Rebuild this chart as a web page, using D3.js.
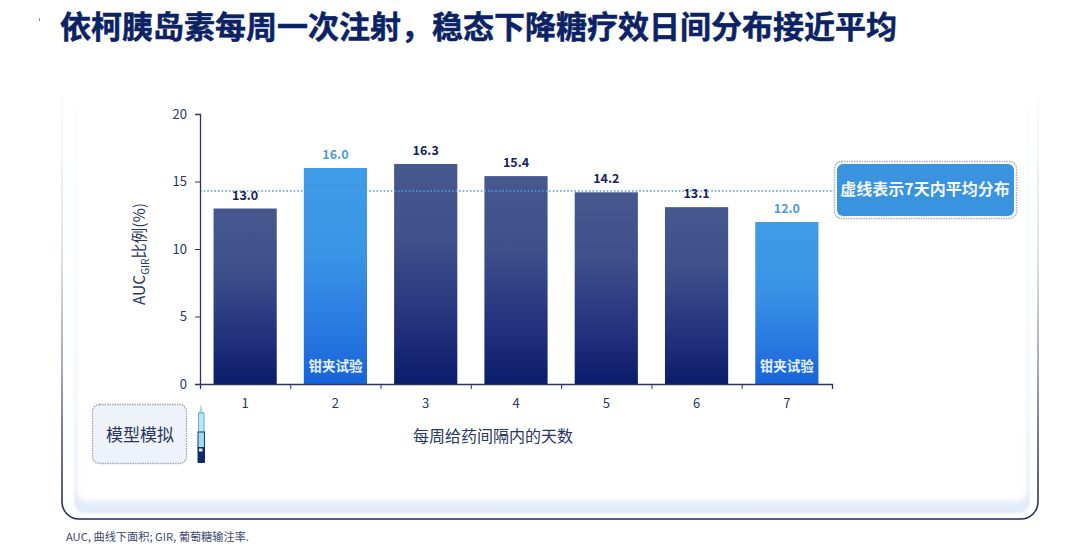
<!DOCTYPE html>
<html><head><meta charset="utf-8">
<script src="https://cdn.jsdelivr.net/npm/d3@7/dist/d3.min.js"></script>
<style>html,body{margin:0;padding:0;background:#fff;overflow:hidden}svg{display:block}
text{font-family:"Noto Sans CJK SC","Noto Sans",sans-serif}</style></head><body>
<svg id="c" width="1080" height="553"></svg>
<script>
const days = ["1","2","3","4","5","6","7"];
const shares = [13.0,16.0,16.3,15.4,14.2,13.1,12.0];
const shareLabels = ["13.0","16.0","16.3","15.4","14.2","13.1","12.0"];
const clampDays = ["2","7"];
const meanShare = 14.3;
const yTicks = [0,5,10,15,20];
const titleText = "依柯胰岛素每周一次注射，稳态下降糖疗效日间分布接近平均";
const xTitle = "每周给药间隔内的天数";
const calloutText = "虚线表示7天内平均分布";
const clampText = "钳夹试验";
const modelText = "模型模拟";
const footText = "AUC, 曲线下面积; GIR, 葡萄糖输注率.";

const NAVY="#0b2265", INK="#2a3566";
const svg=d3.select("#c");
const defs=svg.append("defs");
function grad(id,x2,y2,stops){const g=defs.append("linearGradient").attr("id",id).attr("x1",0).attr("y1",0).attr("x2",x2).attr("y2",y2);
 stops.forEach(s=>g.append("stop").attr("offset",s[0]).attr("stop-color",s[1]).attr("stop-opacity",s[2]===undefined?1:s[2]));}
grad("dark",0,1,[[0,"#47588f"],[0.35,"#3f4f8a"],[0.75,"#222f7c"],[1,"#0a1c6c"]]);
grad("light",0,1,[[0,"#3f9ce8"],[0.4,"#3a94e6"],[0.75,"#2a78e0"],[1,"#1664d8"]]);
grad("frame",0,1,[[0,"#e6e9f1",0],[0.1,"#e6e9f1",0.5],[0.4,"#d3d8e6"],[0.65,"#8c95b6"],[0.85,"#3f4b7c"],[1,"#1e2a66"]]);
grad("panel",0,1,[[0,"#ffffff"],[0.15,"#f8fafd"],[0.6,"#f3f6fb"],[1,"#e2eaf6"]]);
defs.append("filter").attr("id","soft").attr("x","-5%").attr("y","-5%").attr("width","110%").attr("height","110%")
  .append("feGaussianBlur").attr("stdDeviation",2.5);
defs.append("filter").attr("id","soft1").attr("x","-5%").attr("y","-5%").attr("width","110%").attr("height","110%")
  .append("feGaussianBlur").attr("stdDeviation",0.8);

// card
svg.append("rect").attr("x",62).attr("y",85).attr("width",976).attr("height",434).attr("rx",17)
  .attr("fill","#fff").attr("stroke","url(#frame)").attr("stroke-width",1.6);
svg.append("rect").attr("x",74).attr("y",90).attr("width",956).attr("height",423).attr("rx",11)
  .attr("fill","url(#panel)").attr("filter","url(#soft1)");
svg.append("rect").attr("x",77).attr("y",70).attr("width",950).attr("height",431).attr("rx",10)
  .attr("fill","#fff").attr("filter","url(#soft)");

// title
svg.append("text").attr("x",60).attr("y",38).attr("font-size",31).attr("font-weight",700)
  .attr("fill",NAVY).attr("stroke",NAVY).attr("stroke-width",0.5)
  .attr("textLength",837).attr("lengthAdjust","spacingAndGlyphs").text(titleText);
svg.append("rect").attr("x",39).attr("y",18).attr("width",1).attr("height",3).attr("fill","#8a93b0");

// scales
const x=d3.scaleBand().domain(days).range([200,832]).paddingInner(0.3).paddingOuter(0.15);
const y=d3.scaleLinear().domain([0,20]).range([384,114]);

// bars
const rows=days.map((d,i)=>({d,v:shares[i],l:shareLabels[i],clamp:clampDays.includes(d)}));
svg.append("g").selectAll("rect").data(rows).join("rect")
  .attr("x",r=>x(r.d)).attr("width",x.bandwidth()).attr("y",r=>y(r.v)).attr("height",r=>y(0)-y(r.v))
  .attr("fill",r=>r.clamp?"url(#light)":"url(#dark)");

// mean line
svg.append("line").attr("x1",200).attr("x2",834).attr("y1",y(meanShare)).attr("y2",y(meanShare))
  .attr("stroke","#4f9ddc").attr("stroke-width",1.6).attr("stroke-dasharray","1.6 2");

// value labels
svg.append("g").selectAll("text").data(rows).join("text")
  .attr("x",r=>x(r.d)+x.bandwidth()/2).attr("y",r=>y(r.v)-9).attr("text-anchor","middle")
  .attr("font-size",12.5).attr("font-weight",700).attr("fill",r=>r.clamp?"#4a9bdc":"#14235f").text(r=>r.l);

// clamp labels
svg.append("g").selectAll("text").data(rows.filter(r=>r.clamp)).join("text")
  .attr("x",r=>x(r.d)+x.bandwidth()/2).attr("y",y(0)-13).attr("text-anchor","middle")
  .attr("font-size",13.5).attr("font-weight",700).attr("fill","#e8f2fd").text(clampText);

// axes
const gy=svg.append("g").attr("transform","translate(200,0)")
  .call(d3.axisLeft(y).tickValues(yTicks).tickSize(5).tickPadding(8));
const xAxisScale=d3.scaleLinear().domain([0,days.length]).range([200,832]);
const gx=svg.append("g").attr("transform","translate(0,384)")
  .call(d3.axisBottom(xAxisScale).tickValues(d3.range(days.length+1)).tickSize(5).tickFormat(""));
[gy,gx].forEach(g=>{g.selectAll("path.domain").attr("stroke",INK).attr("stroke-width",1.3);
  g.selectAll("line").attr("stroke",INK).attr("stroke-width",1);
  g.selectAll("text").attr("font-size",13).attr("fill",INK).attr("font-family",'"Noto Sans"');});
svg.append("g").selectAll("text").data(days).join("text")
  .attr("x",d=>x(d)+x.bandwidth()/2).attr("y",408).attr("text-anchor","middle")
  .attr("font-size",13).attr("fill",INK).attr("font-family",'"Noto Sans"').text(d=>d);

// axis titles
svg.append("text").attr("x",493).attr("y",442).attr("text-anchor","middle").attr("font-size",16)
  .attr("fill",INK).text(xTitle);
const yl=svg.append("text").attr("transform","translate(145,254) rotate(-90)").attr("text-anchor","middle")
  .attr("font-size",15.5).attr("fill",INK);
yl.append("tspan").text("AUC");
yl.append("tspan").attr("font-size",10).attr("dy",4).text("GIR");
yl.append("tspan").attr("dy",-4).text("比例(%)");

// callout
svg.append("rect").attr("x",834.5).attr("y",161.5).attr("width",182).attr("height",57).attr("rx",7)
  .attr("fill","#fff").attr("stroke","#a9adc6").attr("stroke-width",1.5).attr("stroke-dasharray","1.5 1");
svg.append("rect").attr("x",837).attr("y",164).attr("width",177).attr("height",52).attr("rx",6).attr("fill","#3a93de");
svg.append("text").attr("x",925).attr("y",195).attr("text-anchor","middle").attr("font-size",16)
  .attr("font-weight",700).attr("fill","#f2f8fe").text(calloutText);

// model box
svg.append("rect").attr("x",92.5).attr("y",404.5).attr("width",94).attr("height",59).attr("rx",7)
  .attr("fill","#eef3f9").attr("stroke","#9ea3b3").attr("stroke-width",1.3).attr("stroke-dasharray","1.5 1");
svg.append("text").attr("x",140).attr("y",441).attr("text-anchor","middle").attr("font-size",17)
  .attr("fill",INK).text(modelText);

// pen icon
const pen=svg.append("g");
pen.append("path").attr("d","M201 404 L199 413 L199 416 L203 416 L203 413 Z").attr("fill","#b9cfe0");
pen.append("rect").attr("x",198.5).attr("y",413).attr("width",5.5).attr("height",20).attr("fill","#bfe6f4").attr("stroke","#3aa0c8").attr("stroke-width",0.8);
pen.append("rect").attr("x",198).attr("y",432).attr("width",6.5).attr("height",16).attr("fill","#9fdcee").attr("stroke","#123a78").attr("stroke-width",1);
pen.append("rect").attr("x",197.5).attr("y",447).attr("width",7.5).attr("height",16).attr("rx",1).attr("fill","#0f2a70");
pen.append("rect").attr("x",199).attr("y",448.5).attr("width",3.5).attr("height",3).attr("fill","#e6eef8");

// footnote
svg.append("text").attr("x",66).attr("y",541).attr("font-size",11).attr("fill","#3c4770")
  .attr("textLength",183).attr("lengthAdjust","spacingAndGlyphs").text(footText);
</script></body></html>
